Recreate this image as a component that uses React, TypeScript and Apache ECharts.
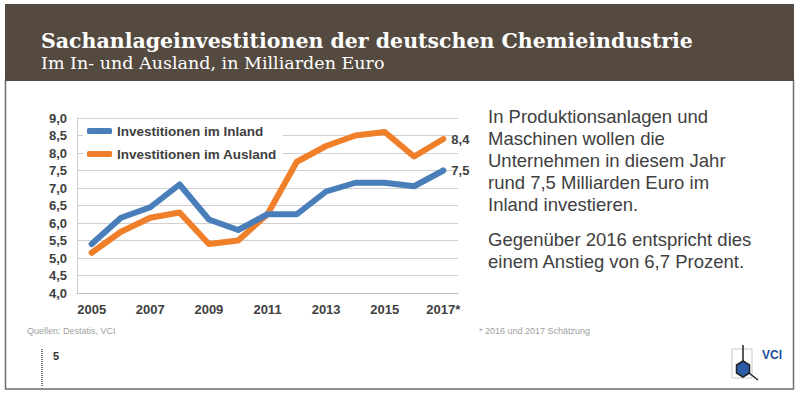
import React, { useEffect, useRef } from "react";
import * as echarts from "echarts";

const years = ["2005", "2006", "2007", "2008", "2009", "2010", "2011", "2012", "2013", "2014", "2015", "2016", "2017*"];
const inland = [5.4, 6.15, 6.45, 7.1, 6.1, 5.8, 6.25, 6.25, 6.9, 7.15, 7.15, 7.05, 7.5];
const ausland = [5.15, 5.75, 6.15, 6.3, 5.4, 5.5, 6.25, 7.75, 8.2, 8.5, 8.6, 7.9, 8.4];
const seriesNames = ["Investitionen im Inland", "Investitionen im Ausland"];
const title = "Sachanlageinvestitionen der deutschen Chemieindustrie";
const subtitle = "Im In- und Ausland, in Milliarden Euro";
const para1 = ["In Produktionsanlagen und", "Maschinen wollen die", "Unternehmen in diesem Jahr", "rund 7,5 Milliarden Euro im", "Inland investieren."];
const para2 = ["Gegenüber 2016 entspricht dies", "einem Anstieg von 6,7 Prozent."];
const sourceNote = "Quellen: Destatis, VCI";
const estimateNote = "* 2016 und 2017 Schätzung";

const fmt = (v: number) => v.toFixed(1).replace(".", ",");

export default function App() {
  const ref = useRef<HTMLDivElement>(null);
  useEffect(() => {
    const chart = echarts.init(ref.current!, null, { renderer: "svg" });
    const textColor = "#404040";
    const graphics: any[] = [
      { type: "rect", z: 0, shape: { x: 5.5, y: 80, width: 788, height: 309 }, style: { fill: "#fff", stroke: "#6e6e6e", lineWidth: 1.5 } },
      { type: "rect", z: 1, shape: { x: 5, y: 4, width: 789, height: 77 }, style: { fill: "#554a3f" } },
      { type: "text", z: 2, x: 41, y: 41, style: { text: title, fill: "#fff", font: "bold 20.5px 'DejaVu Serif'", textVerticalAlign: "middle" } },
      { type: "text", z: 2, x: 41, y: 63, style: { text: subtitle, fill: "#fff", font: "17.5px 'DejaVu Serif'", textVerticalAlign: "middle" } },
    ];
    para1.forEach((t, i) => {
      graphics.push({ type: "text", z: 2, x: 488, y: 116 + i * 22.2, style: { text: t, fill: textColor, font: "18.5px 'Liberation Sans'", textVerticalAlign: "middle" } });
    });
    para2.forEach((t, i) => {
      graphics.push({ type: "text", z: 2, x: 488, y: 239 + i * 22.2, style: { text: t, fill: textColor, font: "18.5px 'Liberation Sans'", textVerticalAlign: "middle" } });
    });
    graphics.push(
      { type: "text", z: 2, x: 27, y: 331, style: { text: sourceNote, fill: "#a0a0a0", font: "9px 'Liberation Sans'", textVerticalAlign: "middle" } },
      { type: "text", z: 2, x: 479, y: 331, style: { text: estimateNote, fill: "#a0a0a0", font: "9px 'Liberation Sans'", textVerticalAlign: "middle" } },
      { type: "line", z: 2, shape: { x1: 42, y1: 349, x2: 42, y2: 387 }, style: { stroke: "#777", lineWidth: 2, lineDash: [1, 1] } },
      { type: "text", z: 2, x: 53, y: 356, style: { text: "5", fill: "#333", font: "bold 11px 'Liberation Sans'", textVerticalAlign: "middle" } },
      { type: "rect", z: 2, shape: { x: 732, y: 349, width: 20, height: 29 }, style: { fill: "none", stroke: "#c8c8c8", lineWidth: 1 } },
      { type: "line", z: 2, shape: { x1: 743, y1: 345, x2: 743, y2: 361 }, style: { stroke: "#222", lineWidth: 1.5 } },
      { type: "line", z: 2, shape: { x1: 749, y1: 373, x2: 758, y2: 380 }, style: { stroke: "#222", lineWidth: 1.5 } },
      { type: "polygon", z: 3, shape: { points: [[743, 361], [749.5, 365], [749.5, 373], [743, 377], [736.5, 373], [736.5, 365]] }, style: { fill: "#2a5ca8", stroke: "#222", lineWidth: 1.5 } },
      { type: "text", z: 2, x: 762, y: 355, style: { text: "VCI", fill: "#1f4e9b", font: "bold 12px 'Liberation Sans Narrow', 'Liberation Sans'", textVerticalAlign: "middle" } }
    );
    chart.setOption({
      animation: false,
      backgroundColor: "#fff",
      graphic: graphics,
      color: ["#4a7ebb", "#f07f2a"],
      grid: { left: 77, right: 342, top: 118, bottom: 105 },
      legend: {
        left: 83,
        top: 122,
        orient: "vertical",
        itemGap: 9,
        itemWidth: 25,
        itemHeight: 6,
        icon: "roundRect",
        backgroundColor: "#fff",
        padding: [2, 6, 2, 4],
        textStyle: { color: textColor, fontSize: 13.5, fontWeight: "bold", fontFamily: "Liberation Sans" },
        data: seriesNames,
      },
      xAxis: {
        type: "category",
        data: years,
        boundaryGap: true,
        axisLine: { lineStyle: { color: "#bfbfbf" } },
        axisTick: { interval: 0, lineStyle: { color: "#bfbfbf" } },
        axisLabel: { interval: 1, color: textColor, fontSize: 13, fontWeight: "bold", fontFamily: "Liberation Sans", margin: 10 },
      },
      yAxis: {
        type: "value",
        min: 4,
        max: 9,
        interval: 0.5,
        axisLine: { show: true, lineStyle: { color: "#d0d0d0" } },
        axisTick: { show: false },
        splitLine: { lineStyle: { color: "#d0d0d0" } },
        axisLabel: { formatter: (v: number) => fmt(v), color: textColor, fontSize: 13, fontWeight: "bold", fontFamily: "Liberation Sans", margin: 10 },
      },
      series: [
        {
          name: seriesNames[0],
          type: "line",
          data: inland,
          symbol: "none",
          lineStyle: { width: 6, cap: "round", join: "round" },
          endLabel: { show: true, formatter: (p: any) => fmt(p.value), color: textColor, fontSize: 13, fontWeight: "bold", fontFamily: "Liberation Sans", distance: 8 },
          z: 3,
        },
        {
          name: seriesNames[1],
          type: "line",
          data: ausland,
          symbol: "none",
          lineStyle: { width: 6, cap: "round", join: "round" },
          endLabel: { show: true, formatter: (p: any) => fmt(p.value), color: textColor, fontSize: 13, fontWeight: "bold", fontFamily: "Liberation Sans", distance: 8 },
          z: 2,
        },
      ],
    });
    return () => chart.dispose();
  }, []);
  return <div ref={ref} style={{ position: "absolute", left: 0, top: 0, width: 800, height: 398 }} />;
}
